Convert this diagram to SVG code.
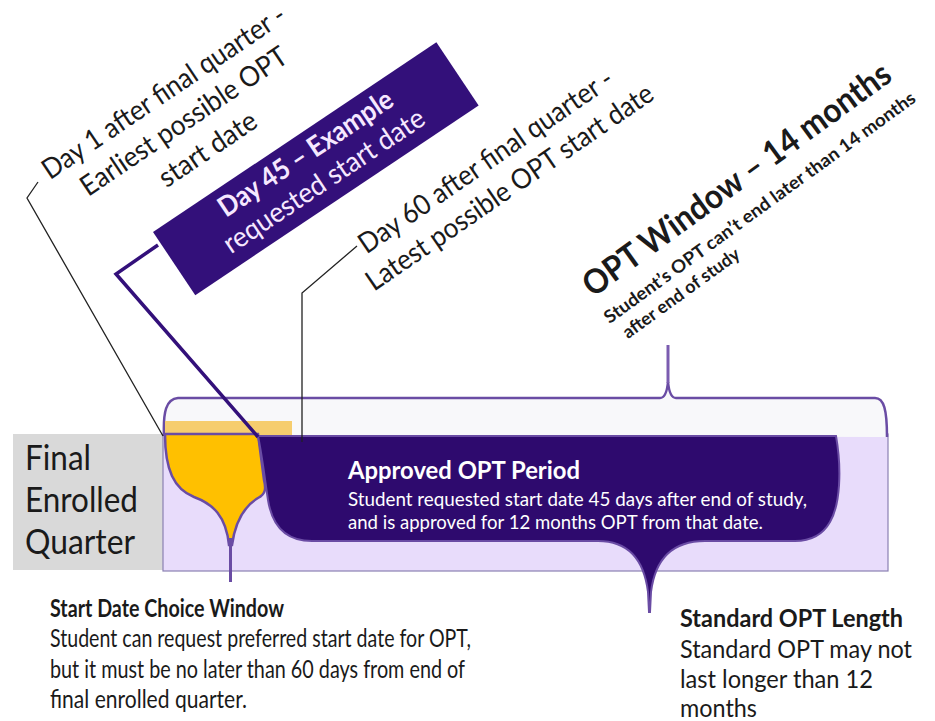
<svg xmlns="http://www.w3.org/2000/svg" width="935" height="721" viewBox="0 0 935 721">
<style>
  text { font-family: Lato, "Open Sans", "Liberation Sans", sans-serif; fill: #1a1a1a; }
  .b { font-weight: bold; }
  .w { fill: #ffffff; }
  .bx { fill: #f6e8ff; }
  .thin { fill: none; stroke: #222; stroke-width: 1.3; }
  .edge { stroke: #6a4ca4; stroke-width: 2.5; }
</style>
<rect x="0" y="0" width="935" height="721" fill="#ffffff"/>

<g id="quarter">
  <rect x="13" y="434" width="150" height="136" fill="#d9d9d9"/>
  <text x="25" y="470" font-size="34" textLength="66" lengthAdjust="spacingAndGlyphs">Final</text>
  <text x="25" y="512" font-size="34" textLength="113" lengthAdjust="spacingAndGlyphs">Enrolled</text>
  <text x="25" y="554" font-size="34" textLength="110" lengthAdjust="spacingAndGlyphs">Quarter</text>
</g>

<g id="opt-window">
  <rect x="163" y="434" width="725" height="137" fill="#e8dcfb" stroke="#8a80b2" stroke-width="1.2"/>
  <path d="M164,436 C163,412 166,399 178,398 L660,398 C665,398 667,392 668,382 C669,392 671,398 676,398 L875,398 C884,398 887,410 887,437 Z" fill="#f8f8fa"/>
  <path d="M164,436 C163,412 166,399 178,398 L660,398 C665,398 667,392 668,382 C669,392 671,398 676,398 L875,398 C884,398 887,410 887,437" fill="none" class="edge"/>
  <line x1="668" y1="345" x2="668" y2="383" stroke="#7b5cb0" stroke-width="3"/>
  <g transform="translate(593,298) rotate(-36)">
    <text x="0" y="0" font-size="34" class="b" textLength="372" lengthAdjust="spacingAndGlyphs">OPT Window – 14 months</text>
    <text x="-2" y="31" font-size="18" class="b" textLength="380" lengthAdjust="spacingAndGlyphs">Student’s OPT can’t end later than 14 months</text>
    <text x="4" y="54" font-size="18" class="b" textLength="140" lengthAdjust="spacingAndGlyphs">after end of study</text>
  </g>
</g>

<g id="start-window">
  <rect x="165" y="421" width="127" height="15" fill="#f6cd6e"/>
  <path d="M165,434 C165,470 174,489 194,497 C213,504 226,516 229,545 L232,545 C236,516 248,504 258,498 C266,494 266,488 264,480 L258,434 Z" fill="#ffc000" class="edge"/>
  <line x1="230.5" y1="538" x2="230.5" y2="582" stroke="#6a4ca4" stroke-width="3"/>
  <text x="50" y="617" font-size="25" class="b" textLength="234" lengthAdjust="spacingAndGlyphs">Start Date Choice Window</text>
  <text x="50" y="647" font-size="25" textLength="421" lengthAdjust="spacingAndGlyphs">Student can request preferred start date for OPT,</text>
  <text x="50" y="678" font-size="25" textLength="415" lengthAdjust="spacingAndGlyphs">but it must be no later than 60 days from end of</text>
  <text x="50" y="708" font-size="25" textLength="197" lengthAdjust="spacingAndGlyphs">final enrolled quarter.</text>
</g>

<g id="approved">
  <path d="M258,436 L836,436 C842,470 840,505 830,522 C822,536 810,541 795,541 L705,541 C672,541 655,560 651,592 L650,612 L649,612 L648,592 C644,560 628,541 598,541 L312,541 C285,541 272,525 268,500 C265,480 262,455 258,436 Z" fill="#2e0a6e" stroke="#6a4ca4" stroke-width="2"/>
  <text x="348" y="479" font-size="25" class="b w" textLength="232" lengthAdjust="spacingAndGlyphs">Approved OPT Period</text>
  <text x="348" y="506" font-size="20" class="w" textLength="459" lengthAdjust="spacingAndGlyphs">Student requested start date 45 days after end of study,</text>
  <text x="348" y="529" font-size="20" class="w" textLength="415" lengthAdjust="spacingAndGlyphs">and is approved for 12 months OPT from that date.</text>
</g>

<g id="standard-length">
  <text x="680" y="627" font-size="25" class="b" textLength="223" lengthAdjust="spacingAndGlyphs">Standard OPT Length</text>
  <text x="680" y="658" font-size="25" textLength="232" lengthAdjust="spacingAndGlyphs">Standard OPT may not</text>
  <text x="680" y="688" font-size="25" textLength="193" lengthAdjust="spacingAndGlyphs">last longer than 12</text>
  <text x="680" y="717" font-size="25" textLength="77" lengthAdjust="spacingAndGlyphs">months</text>
</g>

<g id="day1">
  <text transform="translate(169,100) rotate(-34)" text-anchor="middle" font-size="28" textLength="287" lengthAdjust="spacingAndGlyphs">Day 1 after final quarter -</text>
  <text transform="translate(189,129) rotate(-34)" text-anchor="middle" font-size="28" textLength="243" lengthAdjust="spacingAndGlyphs">Earliest possible OPT</text>
  <text transform="translate(213,157) rotate(-34)" text-anchor="middle" font-size="28" textLength="112" lengthAdjust="spacingAndGlyphs">start date</text>
</g>

<g id="day45">
  <g transform="translate(153,232) rotate(-33.8)">
    <rect x="0" y="0" width="341" height="76" fill="#33107a"/>
    <text x="170.5" y="29" text-anchor="middle" font-size="28" class="b bx" textLength="204" lengthAdjust="spacingAndGlyphs">Day 45 – Example</text>
    <text x="170.5" y="62" text-anchor="middle" font-size="28" class="bx" textLength="236" lengthAdjust="spacingAndGlyphs">requested start date</text>
  </g>
</g>

<g id="day60">
  <text transform="translate(491,169) rotate(-34.5)" text-anchor="middle" font-size="28" textLength="302" lengthAdjust="spacingAndGlyphs">Day 60 after final quarter -</text>
  <text transform="translate(515,195) rotate(-34.5)" text-anchor="middle" font-size="28" textLength="342" lengthAdjust="spacingAndGlyphs">Latest possible OPT start date</text>
</g>

<g id="connectors">
  <path class="thin" d="M38,182 L27,198 L163,436"/>
  <path d="M158,245 L116,274 L258,437" fill="none" stroke="#33107a" stroke-width="3.5"/>
  <path class="thin" d="M357,246 L302,293 L302,442"/>
</g>
</svg>
